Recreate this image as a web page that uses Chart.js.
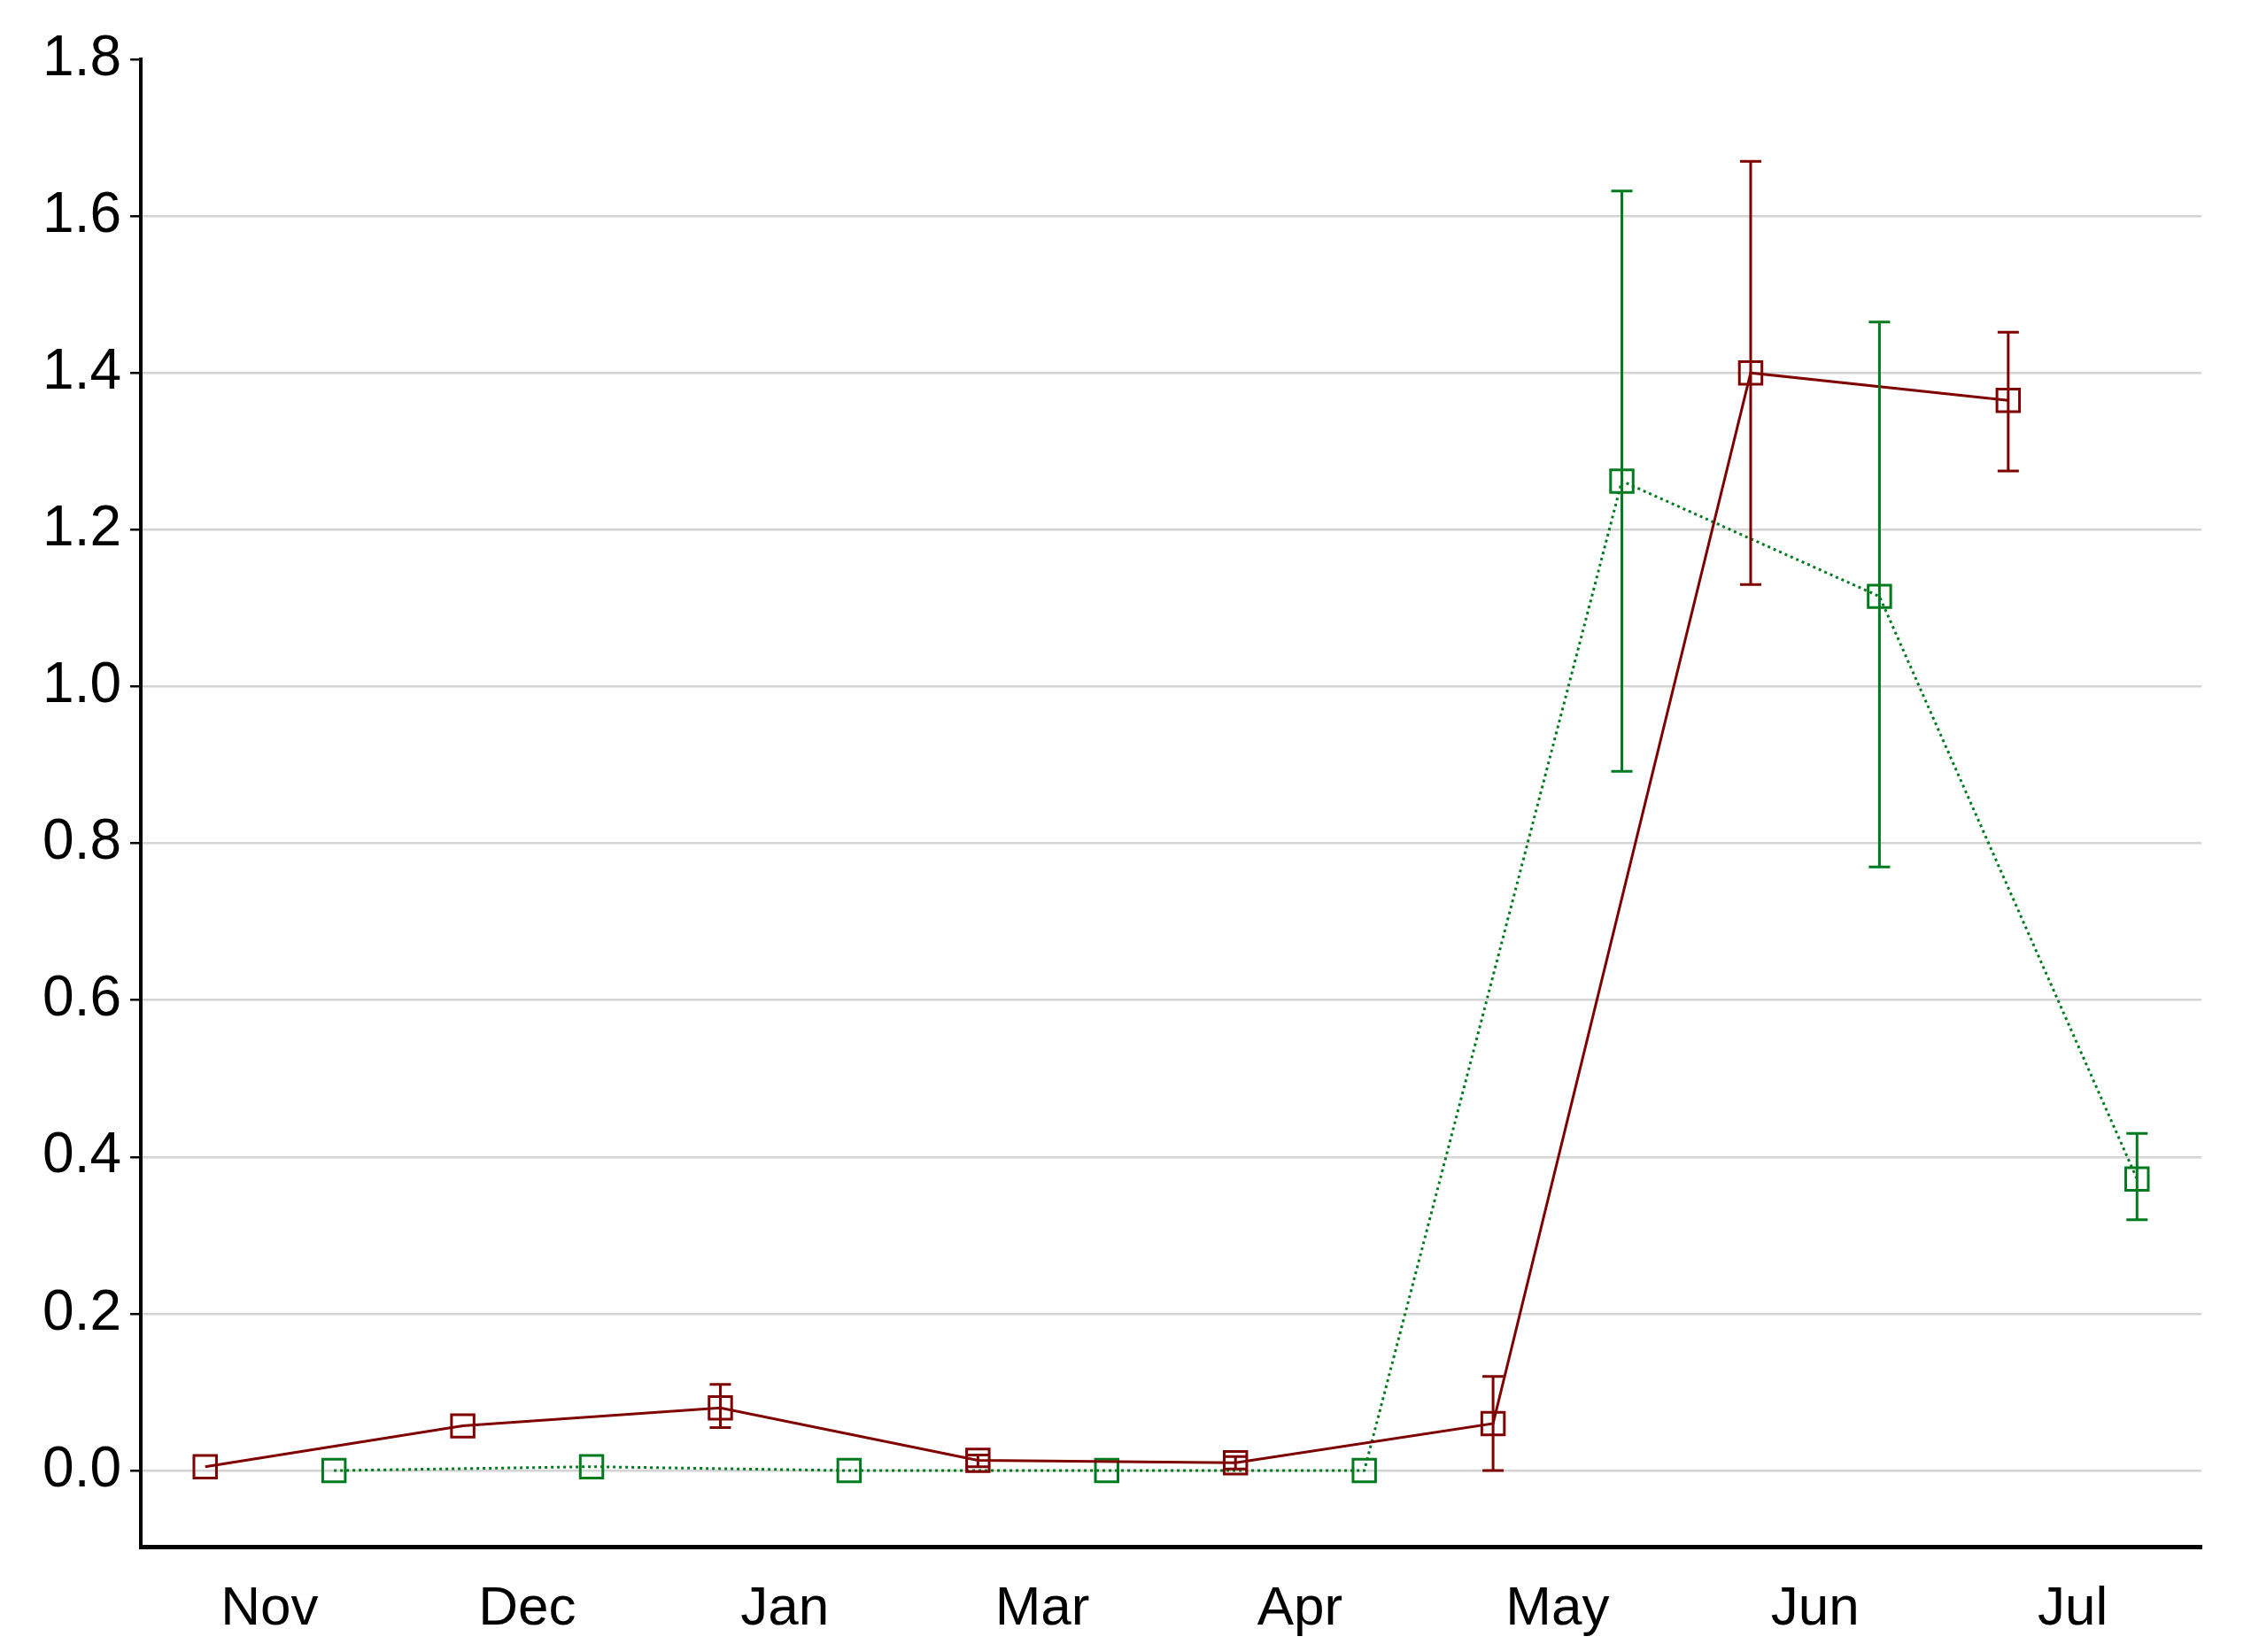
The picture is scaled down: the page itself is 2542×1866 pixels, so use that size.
<!DOCTYPE html>
<html>
<head>
<script src="https://cdn.jsdelivr.net/npm/chart.js@4"></script>
<style>
  body { margin: 0; background: #fff; }
  #wrap { width: 2542px; height: 1866px; }
</style>
</head>
<body>
<div id="wrap"><canvas id="myChart"></canvas></div>
<script>
var months = ['Nov', 'Dec', 'Jan', 'Mar', 'Apr', 'May', 'Jun', 'Jul'];
var redMean = [0.005, 0.057, 0.080, 0.013, 0.010, 0.060, 1.400, 1.365];
var redLow  = [0.000, 0.050, 0.055, 0.005, 0.002, 0.000, 1.130, 1.275];
var redHigh = [0.012, 0.064, 0.110, 0.020, 0.018, 0.120, 1.670, 1.452];
var greenMean = [0.000, 0.005, 0.000, 0.000, 0.000, 1.262, 1.115, 0.372];
var greenLow  = [0.000, 0.000, 0.000, 0.000, 0.000, 0.892, 0.770, 0.320];
var greenHigh = [0.000, 0.012, 0.000, 0.000, 0.000, 1.632, 1.465, 0.430];
var yTicks = [0, 0.2, 0.4, 0.6, 0.8, 1.0, 1.2, 1.4, 1.6, 1.8];

var RED = '#7f0000';
var GREEN = '#007a1e';

function pts(vals, offset) {
    return vals.map(function (v, i) { return { x: i * 2 + offset, y: v }; });
}

var errorBars = {
    id: 'errorBars',
    afterDatasetsDraw: function (chart) {
        var c = chart.ctx, xs = chart.scales.x, ys = chart.scales.y;
        var sets = [[redLow, redHigh, 0.5, RED], [greenLow, greenHigh, 1.5, GREEN]];
        c.save();
        c.lineWidth = 3;
        sets.forEach(function (s) {
            c.strokeStyle = s[3];
            for (var i = 0; i < s[0].length; i++) {
                if (s[1][i] - s[0][i] < 0.015) continue;
                var x = xs.getPixelForValue(i * 2 + s[2]);
                var y1 = ys.getPixelForValue(s[0][i]), y2 = ys.getPixelForValue(s[1][i]);
                c.beginPath();
                c.moveTo(x, y1); c.lineTo(x, y2);
                c.moveTo(x - 12, y1); c.lineTo(x + 12, y1);
                c.moveTo(x - 12, y2); c.lineTo(x + 12, y2);
                c.stroke();
            }
        });
        c.restore();
    }
};

var ctx = document.getElementById('myChart');
var myChart = new Chart(ctx, {
    type: 'scatter',
    data: {
        datasets: [{
            data: pts(redMean, 0.5),
            showLine: true,
            borderColor: RED,
            borderWidth: 3,
            pointStyle: 'rect',
            pointRadius: 18,
            pointBorderWidth: 3,
            pointBackgroundColor: 'rgba(255,255,255,0)',
            pointBorderColor: RED
        }, {
            data: pts(greenMean, 1.5),
            showLine: true,
            borderColor: GREEN,
            borderWidth: 3,
            borderDash: [3, 4],
            pointStyle: 'rect',
            pointRadius: 18,
            pointBorderWidth: 3,
            pointBackgroundColor: 'rgba(255,255,255,0)',
            pointBorderColor: GREEN
        }]
    },
    options: {
        responsive: true,
        maintainAspectRatio: false,
        animation: false,
        layout: { padding: { top: 67, right: 56, left: 0, bottom: 0 } },
        plugins: { legend: { display: false }, tooltip: { enabled: false } },
        scales: {
            x: {
                type: 'linear',
                min: 0,
                max: 16,
                afterBuildTicks: function (s) {
                    s.ticks = months.map(function (m, i) { return { value: i * 2 + 1 }; });
                },
                afterFit: function (s) { s.height = 119; },
                ticks: {
                    autoSkip: false,
                    maxRotation: 0,
                    padding: 26,
                    color: '#000',
                    font: { family: 'Liberation Sans', size: 62 },
                    callback: function (v) { return months[(v - 1) / 2]; }
                },
                grid: { display: false },
                border: { color: '#000', width: 5 }
            },
            y: {
                min: -0.097,
                max: 1.8,
                afterBuildTicks: function (s) {
                    s.ticks = yTicks.map(function (v) { return { value: v }; });
                },
                afterFit: function (s) { s.width = 159; },
                ticks: {
                    padding: 10,
                    color: '#000',
                    font: { family: 'Liberation Sans', size: 64 },
                    callback: function (v) { return v.toFixed(1); }
                },
                grid: {
                    color: function (c) { return c.tick && c.tick.value > 1.7 ? 'rgba(0,0,0,0)' : '#d4d4d4'; },
                    lineWidth: 2.5,
                    tickColor: '#000',
                    tickLength: 12
                },
                border: { color: '#000', width: 4 }
            }
        }
    },
    plugins: [errorBars]
});
</script>
</body>
</html>
